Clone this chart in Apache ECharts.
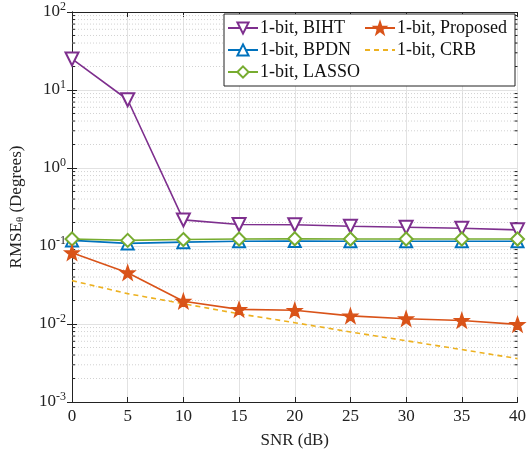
<!DOCTYPE html>
<html><head><meta charset="utf-8">
<script src="https://cdn.jsdelivr.net/npm/echarts@6/dist/echarts.min.js"></script>
<style>html,body{margin:0;padding:0;background:#fff}#c{width:529px;height:454px}</style>
</head><body><div id="c"></div>
<script>
const snr = [0, 5, 10, 15, 20, 25, 30, 35, 40];
const biht = [25, 7.5, 0.216, 0.189, 0.187, 0.179, 0.174, 0.169, 0.161];
const bpdn = [0.118, 0.108, 0.112, 0.115, 0.116, 0.115, 0.115, 0.115, 0.115];
const lasso = [0.123, 0.118, 0.121, 0.123, 0.124, 0.123, 0.123, 0.123, 0.123];
const proposed = [0.082, 0.0455, 0.0196, 0.0154, 0.0150, 0.0127, 0.0117, 0.0111, 0.0099];
const crb = [0.036, 0.0245, 0.0182, 0.0135, 0.0104, 0.0079, 0.0061, 0.0047, 0.0036];
const xTicks = [0, 5, 10, 15, 20, 25, 30, 35, 40];
const decades = [-3, -2, -1, 0, 1, 2];
const minorMult = [2, 3, 4, 5, 6, 7, 8, 9];

const minorVals = [];
for (let i = 0; i < decades.length - 1; i++) for (const m of minorMult) minorVals.push(m * Math.pow(10, decades[i]));

const pairs = ys => snr.map((x, i) => [x, ys[i]]);
const FONT = 'Liberation Serif';
const star = 'path://M0,-10 L2.35,-3.24 L9.51,-3.09 L3.8,1.24 L5.88,8.09 L0,4 L-5.88,8.09 L-3.8,1.24 L-9.51,-3.09 L-2.35,-3.24 Z';

const chart = echarts.init(document.getElementById('c'));
const lineSeries = (name, ys, color, symbol, size, extra) => Object.assign({
  name, type: 'line', data: pairs(ys), symbol, symbolSize: size,
  lineStyle: { color, width: 1.6 }, itemStyle: { color, borderColor: color, borderWidth: 1.5 },
  z: 3
}, extra || {});

chart.setOption({
  animation: false,
  grid: { left: 68, right: 8, top: 12, bottom: 50 },
  legend: {
    orient: 'vertical', left: 224, top: 14, height: 62,
    itemWidth: 30, itemHeight: 14, itemGap: 4,
    padding: [5, 8, 5, 3],
    borderColor: '#222', borderWidth: 1, backgroundColor: '#fff',
    textStyle: { fontFamily: FONT, fontSize: 18, color: '#111', padding: [0, 0, 0, -3] },
    data: ['1-bit, BIHT', '1-bit, BPDN', '1-bit, LASSO', '1-bit, Proposed',
      { name: '1-bit, CRB', itemStyle: { opacity: 0 } }]
  },
  xAxis: [{
    type: 'value', min: 0, max: 40, interval: 5,
    name: 'SNR (dB)', nameLocation: 'middle', nameGap: 30,
    nameTextStyle: { fontFamily: FONT, fontSize: 17, color: '#222' },
    axisLine: { lineStyle: { color: '#222' } },
    axisTick: { inside: true, length: 5, lineStyle: { color: '#222' } },
    axisLabel: { fontFamily: FONT, fontSize: 17, color: '#222', margin: 6 },
    splitLine: { show: true, lineStyle: { color: '#e2e2e2', width: 1 } }
  }, {
    type: 'value', min: 0, max: 40, interval: 5, position: 'top',
    axisLine: { show: true, lineStyle: { color: '#222' } },
    axisTick: { inside: true, length: 5, lineStyle: { color: '#222' } },
    axisLabel: { show: false }, splitLine: { show: false }
  }],
  yAxis: [{
    type: 'log', logBase: 10, min: 0.001, max: 100, interval: 1,
    name: 'RMSE{sub|θ} (Degrees)', nameLocation: 'middle', nameGap: 46, nameRotate: 90,
    nameTextStyle: { fontFamily: FONT, fontSize: 17, color: '#222',
      rich: { sub: { fontFamily: FONT, fontSize: 11, color: '#222', verticalAlign: 'bottom', padding: [8, 0, 0, 0] } } },
    axisLine: { show: true, lineStyle: { color: '#222' } },
    axisTick: { inside: true, length: 5, lineStyle: { color: '#222' } },
    axisLabel: {
      fontFamily: FONT, fontSize: 17, color: '#222', margin: 6,
      formatter: v => '10{sup|' + Math.round(Math.log10(v)) + '}',
      rich: { sup: { fontFamily: FONT, fontSize: 12, color: '#222', verticalAlign: 'top', padding: [0, 0, 10, 0] } }
    },
    splitLine: { show: true, lineStyle: { color: '#e2e2e2', width: 1 } }
  }, {
    type: 'log', logBase: 10, min: 0.001, max: 100, interval: 1, position: 'right',
    axisLine: { show: true, lineStyle: { color: '#222' } },
    axisTick: { inside: true, length: 5, lineStyle: { color: '#222' } },
    axisLabel: { show: false }, splitLine: { show: false }
  }],
  series: [
    {
      type: 'custom', silent: true, z: 1,
      data: minorVals.map(v => [0, v]),
      renderItem: (params, api) => {
        const v = api.value(1);
        const l = api.coord([0, v]), r = api.coord([40, v]);
        return {
          type: 'group', children: [
            { type: 'line', shape: { x1: l[0], y1: l[1], x2: r[0], y2: r[1] },
              style: { stroke: '#d2d2d2', lineWidth: 1, lineDash: [1, 2] } },
            { type: 'line', shape: { x1: l[0], y1: l[1], x2: l[0] + 3, y2: l[1] },
              style: { stroke: '#222', lineWidth: 1 } },
            { type: 'line', shape: { x1: r[0], y1: r[1], x2: r[0] - 3, y2: r[1] },
              style: { stroke: '#222', lineWidth: 1 } }
          ]
        };
      }
    },
    lineSeries('1-bit, BIHT', biht, '#7E2F8E', 'emptyTriangle', 13, { symbolRotate: 180 }),
    lineSeries('1-bit, BPDN', bpdn, '#0072BD', 'emptyTriangle', 12),
    lineSeries('1-bit, LASSO', lasso, '#77AC30', 'emptyDiamond', 13),
    lineSeries('1-bit, Proposed', proposed, '#D95319', star, 14),
    lineSeries('1-bit, CRB', crb, '#EDB120', 'none', 0, { lineStyle: { color: '#EDB120', width: 1.6, type: [5, 4] } })
  ]
});
</script></body></html>
